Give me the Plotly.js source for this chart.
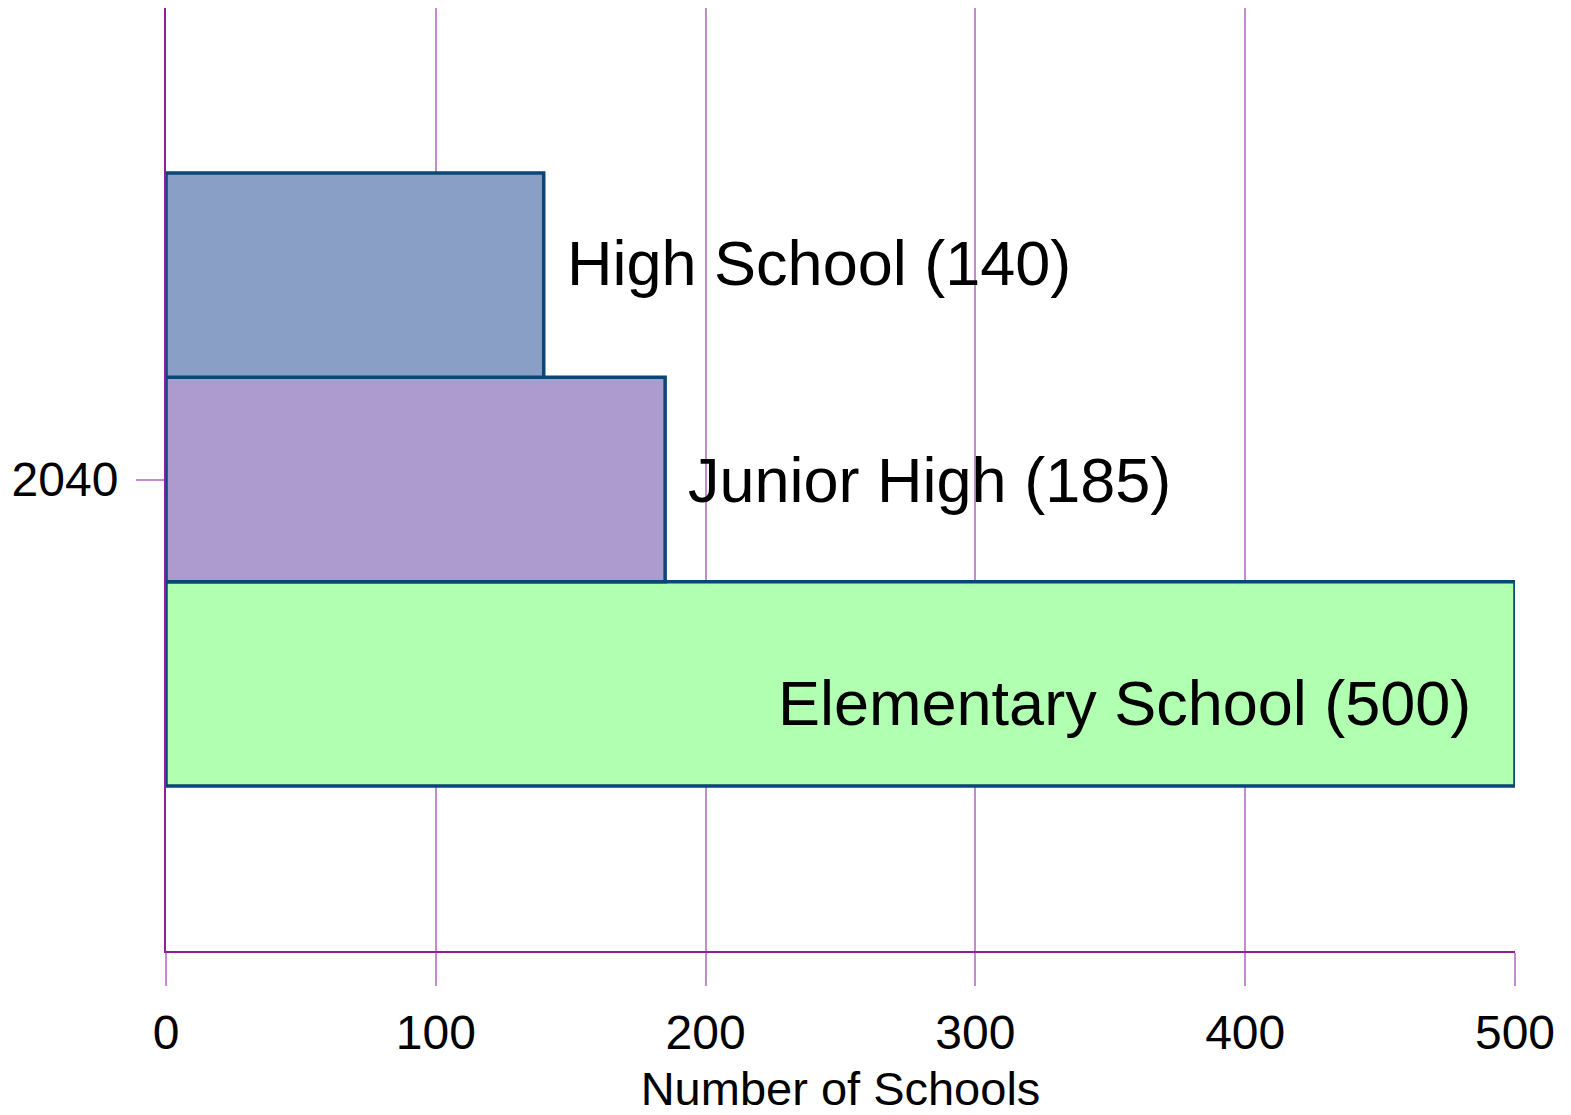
<!DOCTYPE html>
<html>
<head>
<meta charset="utf-8">
<script src="https://cdn.plot.ly/plotly-3.0.1.min.js"></script>
<style>html,body{margin:0;padding:0;background:#fff;}#chart{width:1571px;height:1115px;}</style>
</head>
<body>
<div id="chart"></div>
<script>
// Data
const categories = ["2040"];
const seriesNames = ["Elementary School", "Junior High", "High School"];
const elementaryValues = [500];
const juniorHighValues = [185];
const highSchoolValues = [140];
const xTickValues = [0, 100, 200, 300, 400, 500];
const xTitle = "Number of Schools";

const seriesValues = [elementaryValues, juniorHighValues, highSchoolValues];
const colors = ["#b1ffb0", "#ad9bcf", "#8a9fc6"];
const outline = "#0b4676";
const font = "Liberation Sans, Arial, sans-serif";

const traces = seriesNames.map((name, i) => ({
  type: "bar",
  orientation: "h",
  name: name,
  y: categories,
  x: seriesValues[i],
  marker: {color: colors[i], line: {color: outline, width: 3.5}},
  hoverinfo: "none"
}));

// label placement: [xanchor, xshift, yshift]
const labelStyle = [["right", -42, -223], ["left", 21, 0], ["left", 21, 217]];
const annotations = seriesNames.map((name, i) => ({
  x: seriesValues[i][0],
  y: categories.indexOf(categories[0]),
  xref: "x", yref: "y",
  text: name + " (" + seriesValues[i][0] + ")",
  showarrow: false,
  xanchor: labelStyle[i][0],
  yanchor: "middle",
  xshift: labelStyle[i][1],
  yshift: labelStyle[i][2],
  font: {family: font, size: 63, color: "#000"}
}));

const layout = {
  width: 1571, height: 1115,
  margin: {l: 166, r: 56, t: 8, b: 164, pad: 0},
  paper_bgcolor: "#fff", plot_bgcolor: "#fff",
  barmode: "group", bargap: 0.35, bargroupgap: 0,
  showlegend: false,
  font: {family: font, color: "#000"},
  xaxis: {
    range: [0, 500],
    tickvals: xTickValues,
    ticktext: xTickValues.map(String),
    showgrid: true, gridcolor: "#c68ad0", gridwidth: 2,
    zeroline: false,
    showline: true, linecolor: "#8e1e9c", linewidth: 2,
    ticks: "outside", ticklen: 33, tickwidth: 2, tickcolor: "#c68ad0",
    ticklabelstandoff: 5,
    tickfont: {family: font, size: 48, color: "#000"},
    title: {text: xTitle, font: {family: font, size: 47, color: "#000"}, standoff: 22}
  },
  yaxis: {
    type: "category",
    range: [-0.5, 0.5],
    showgrid: false, zeroline: false,
    showline: true, linecolor: "#8e1e9c", linewidth: 2,
    ticks: "outside", ticklen: 28, tickwidth: 2, tickcolor: "#c68ad0",
    ticklabelstandoff: 8,
    tickfont: {family: font, size: 48, color: "#000"}
  },
  annotations: annotations
};

Plotly.newPlot("chart", traces, layout, {staticPlot: true, displayModeBar: false});
</script>
</body>
</html>
